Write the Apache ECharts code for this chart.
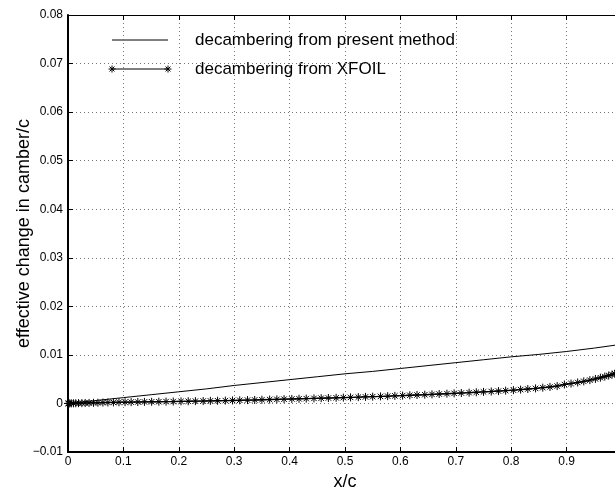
<!DOCTYPE html>
<html>
<head>
<meta charset="utf-8">
<script src="https://cdn.jsdelivr.net/npm/echarts@6/dist/echarts.min.js"></script>
<style>
html,body{margin:0;padding:0;background:#fff;}
#chart{width:615px;height:491px;}
</style>
</head>
<body>
<div id="chart"></div>
<script>
// ---- data ----
var presentX = [0, 0.05, 0.1, 0.15, 0.2, 0.25, 0.3, 0.35, 0.4, 0.45, 0.5, 0.55, 0.6, 0.65, 0.7, 0.75, 0.8, 0.85, 0.9, 0.95, 1.0];
var presentY = [0, 0.0006, 0.0012, 0.0018, 0.0024, 0.0030, 0.0037, 0.0043, 0.0049, 0.0055, 0.0061, 0.0066, 0.0072, 0.0078, 0.0084, 0.0090, 0.0096, 0.0101, 0.0107, 0.0114, 0.0122];

var xfoilX = [0, 0.001, 0.003, 0.006, 0.01, 0.014, 0.019, 0.025, 0.031, 0.038, 0.046, 0.054, 0.063, 0.072, 0.082, 0.092,
  0.103, 0.114, 0.126, 0.138, 0.151, 0.164, 0.177, 0.190, 0.204, 0.217, 0.230, 0.244, 0.257, 0.270, 0.284, 0.297,
  0.310, 0.324, 0.337, 0.350, 0.364, 0.377, 0.390, 0.404, 0.417, 0.430, 0.444, 0.457, 0.470, 0.484, 0.497, 0.510,
  0.524, 0.537, 0.550, 0.564, 0.577, 0.590, 0.604, 0.617, 0.630, 0.644, 0.657, 0.670, 0.684, 0.697, 0.710, 0.724,
  0.737, 0.750, 0.764, 0.777, 0.790, 0.804, 0.817, 0.830, 0.844, 0.857, 0.870, 0.883, 0.896, 0.908, 0.920, 0.931,
  0.942, 0.952, 0.961, 0.969, 0.976, 0.982, 0.987, 0.991, 0.995, 1.0];
var xfoilY = [0, 0, 0.00001, 0.00002, 0.00003, 0.00004, 0.00006, 0.00007, 0.00009, 0.00011, 0.00013, 0.00015, 0.00018, 0.0002, 0.00022, 0.00024,
  0.00026, 0.00028, 0.0003, 0.00032, 0.00034, 0.00036, 0.00038, 0.0004, 0.00043, 0.00045, 0.00048, 0.0005, 0.00053, 0.00056, 0.00059, 0.00062,
  0.00065, 0.00069, 0.00072, 0.00076, 0.0008, 0.00084, 0.00088, 0.00092, 0.00096, 0.001, 0.00104, 0.00108, 0.00112, 0.00116, 0.0012, 0.00125,
  0.0013, 0.00135, 0.0014, 0.00145, 0.0015, 0.00156, 0.00162, 0.00168, 0.00174, 0.0018, 0.00187, 0.00194, 0.00201, 0.00208, 0.00215, 0.00222,
  0.0023, 0.00238, 0.00246, 0.00255, 0.00264, 0.00274, 0.00285, 0.00297, 0.0031, 0.00325, 0.0034, 0.00358, 0.0039, 0.0041, 0.00432, 0.00455,
  0.0048, 0.00505, 0.0053, 0.00553, 0.00575, 0.00595, 0.00612, 0.00628, 0.00643, 0.0066];

var legendLabels = ['decambering from present method', 'decambering from XFOIL'];
var xAxisTitle = 'x/c';
var yAxisTitle = 'effective change in camber/c';

// ---- build ----
function zip(a, b) { return a.map(function (v, i) { return [v, b[i]]; }); }
var FONT = "'Liberation Sans', Arial, Helvetica, sans-serif";
var starPath = 'path://M5,0L5,10M0,5L10,5M1.6,1.6L8.4,8.4M1.6,8.4L8.4,1.6';
function starLines(cx, cy, r) {
  var d = r * 0.7;
  var segs = [[cx, cy - r, cx, cy + r], [cx - r, cy, cx + r, cy], [cx - d, cy - d, cx + d, cy + d], [cx - d, cy + d, cx + d, cy - d]];
  return segs.map(function (s) {
    return { type: 'line', shape: { x1: s[0], y1: s[1], x2: s[2], y2: s[3] }, style: { stroke: '#000', lineWidth: 1 } };
  });
}

var chart = echarts.init(document.getElementById('chart'), null, { renderer: 'canvas' });
var gridLine = { show: true, lineStyle: { color: '#777', type: [1, 3], width: 1 } };

var graphics = [
  { type: 'line', shape: { x1: 112, y1: 40, x2: 168, y2: 40 }, style: { stroke: '#000', lineWidth: 1 } },
  { type: 'text', x: 195, y: 40, style: { text: legendLabels[0], font: '17px ' + FONT, fill: '#000', verticalAlign: 'middle', align: 'left' } },
  { type: 'line', shape: { x1: 112, y1: 69, x2: 168, y2: 69 }, style: { stroke: '#000', lineWidth: 1.2 } },
  { type: 'text', x: 195, y: 69, style: { text: legendLabels[1], font: '17px ' + FONT, fill: '#000', verticalAlign: 'middle', align: 'left' } }
].concat(starLines(112, 69, 3.5)).concat(starLines(168, 69, 3.5));

var option = {
  animation: false,
  backgroundColor: '#fff',
  textStyle: { fontFamily: FONT },
  grid: { left: 68, top: 15, right: -7, bottom: 39, containLabel: false, outerBoundsMode: 'none' },
  xAxis: [{
    type: 'value', min: 0, max: 1, interval: 0.1, position: 'bottom',
    name: xAxisTitle, nameLocation: 'middle', nameGap: 17,
    nameTextStyle: { fontSize: 18, color: '#000', fontFamily: FONT },
    axisLine: { show: true, onZero: false, lineStyle: { color: '#000', width: 2 } },
    axisTick: { show: true, inside: true, length: 5, lineStyle: { color: '#000' } },
    axisLabel: { color: '#000', fontSize: 12, margin: 4, fontFamily: FONT, showMaxLabel: false,
      formatter: function (v) { if (v === 0) return '0'; if (v >= 1) return ''; return (Math.round(v * 10) / 10).toFixed(1); } },
    splitLine: gridLine
  }, {
    type: 'value', min: 0, max: 1, interval: 0.1, position: 'top',
    axisLine: { show: true, onZero: false, lineStyle: { color: '#000', width: 1 } },
    axisTick: { show: true, inside: true, length: 5, lineStyle: { color: '#000' } },
    axisLabel: { show: false }, splitLine: { show: false }
  }],
  yAxis: [{
    type: 'value', min: -0.01, max: 0.08, interval: 0.01, position: 'left',
    name: yAxisTitle, nameLocation: 'middle', nameGap: 35, nameRotate: 90, nameMoveOverlap: false,
    nameTextStyle: { fontSize: 18, color: '#000', fontFamily: FONT },
    axisLine: { show: true, onZero: false, lineStyle: { color: '#000', width: 2 } },
    axisTick: { show: true, inside: true, length: 5, lineStyle: { color: '#000' } },
    axisLabel: { color: '#000', fontSize: 12, margin: 5, fontFamily: FONT,
      formatter: function (v) {
        var r = Math.round(v * 100) / 100;
        if (r === 0) return '0';
        if (r < 0) return '\u2212' + Math.abs(r).toFixed(2);
        return r.toFixed(2);
      } },
    splitLine: gridLine
  }, {
    type: 'value', min: -0.01, max: 0.08, interval: 0.01, position: 'right',
    axisLine: { show: true, onZero: false, lineStyle: { color: '#000', width: 1 } },
    axisTick: { show: true, inside: true, length: 5, lineStyle: { color: '#000' } },
    axisLabel: { show: false }, splitLine: { show: false }
  }],
  series: [{
    name: legendLabels[0], type: 'line', xAxisIndex: 0, yAxisIndex: 0,
    data: zip(presentX, presentY), showSymbol: false, symbol: 'none',
    lineStyle: { color: '#000', width: 1 }, z: 3
  }, {
    name: legendLabels[1], type: 'line', xAxisIndex: 0, yAxisIndex: 0,
    data: zip(xfoilX, xfoilY), symbol: starPath, symbolSize: 8, showAllSymbol: true,
    lineStyle: { color: '#000', width: 1.4 },
    itemStyle: { color: '#000', borderColor: '#000', borderWidth: 1 }, z: 4
  }],
  graphic: graphics
};
chart.setOption(option);
</script>
</body>
</html>
